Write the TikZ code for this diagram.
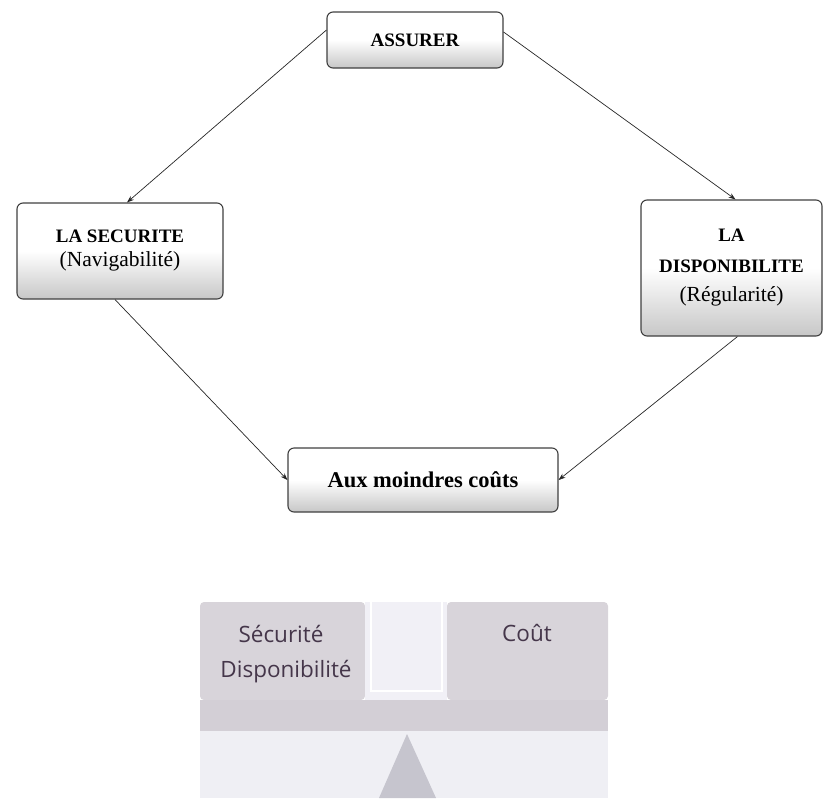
\documentclass[tikz,border=0pt]{standalone}
\usepackage{fontspec}
\setmainfont{Liberation Serif}
\newfontfamily\calfont{Open Sans}
\usetikzlibrary{calc,arrows.meta}
\definecolor{blockgray}{HTML}{D8D4DA}
\definecolor{bargray}{HTML}{D3CFD6}
\definecolor{lowbg}{HTML}{EFEFF4}
\definecolor{fulcrum}{HTML}{C6C5CE}
\definecolor{gaplav}{HTML}{F1F0F6}
\definecolor{txtpurple}{HTML}{45364A}
\tikzset{
  boxnode/.style={draw=black!75, line width=1.1pt, rounded corners=6pt,
    top color=white, bottom color=black!22, middle color=white,
    align=center, inner sep=0pt, font=\bfseries\fontsize{19}{23}\selectfont},
  conn/.style={-{Stealth[length=7pt,width=5pt]}, line width=0.7pt, black!85},
  ptext/.style={text=txtpurple, font=\calfont\fontsize{22.5}{26}\selectfont, inner sep=0pt}
}
\newcommand{\regtxt}[1]{{\mdseries\fontsize{21.5}{25}\selectfont #1}}
\begin{document}
\begin{tikzpicture}[x=1pt,y=-1pt]
\useasboundingbox (0,0) rectangle (824,798);
% top diagram
\node[boxnode, minimum width=176pt, minimum height=56pt] (A) at (415,40) {ASSURER};
\node[boxnode, minimum width=206pt, minimum height=96pt] (S) at (120,251)
  {LA SECURITE\\[1pt]\regtxt{(Navigabilité)}};
\node[boxnode, minimum width=181pt, minimum height=136pt] (D) at (731.5,268)
  {LA\\[8pt]DISPONIBILITE\\[6pt]\regtxt{(Régularité)}};
\node[boxnode, minimum width=270pt, minimum height=64pt, font=\bfseries\fontsize{22.5}{26}\selectfont] (C) at (423,480) {Aux moindres coûts};
\draw[conn] ($(A.west)+(0,-10)$) -- ($(S.north)+(7,0)$);
\draw[conn] ($(A.east)+(0,-8)$) -- ($(D.north)+(4,0)$);
\draw[conn] ($(S.south)+(-5,0)$) -- (C.west);
\draw[conn] ($(D.south)+(6,0)$) -- (C.east);
% bottom balance picture
\fill[lowbg] (200,730) rectangle (608,798);
\fill[fulcrum] (407,734) -- (379,798) -- (436,798) -- cycle;
\fill[bargray] (200,700) rectangle (608,731);
\fill[blockgray, rounded corners=4pt] (200,700) -- (200,602) -- (365,602) -- (365,700) -- cycle;
\fill[blockgray, rounded corners=4pt] (447,700) -- (447,602) -- (608,602) -- (608,700) -- cycle;
\fill[gaplav] (365,602) rectangle (447,700);
\draw[white, line width=1.5pt] (371,602) -- (371,691) -- (442,691) -- (442,602);
\node[ptext] (t1) at (281,634) {Sécurité};
\node[ptext] (t2) at (286,672) {Disponibilité};
\node[ptext] (t3) at (527,633) {Coût};
\end{tikzpicture}
\end{document}
